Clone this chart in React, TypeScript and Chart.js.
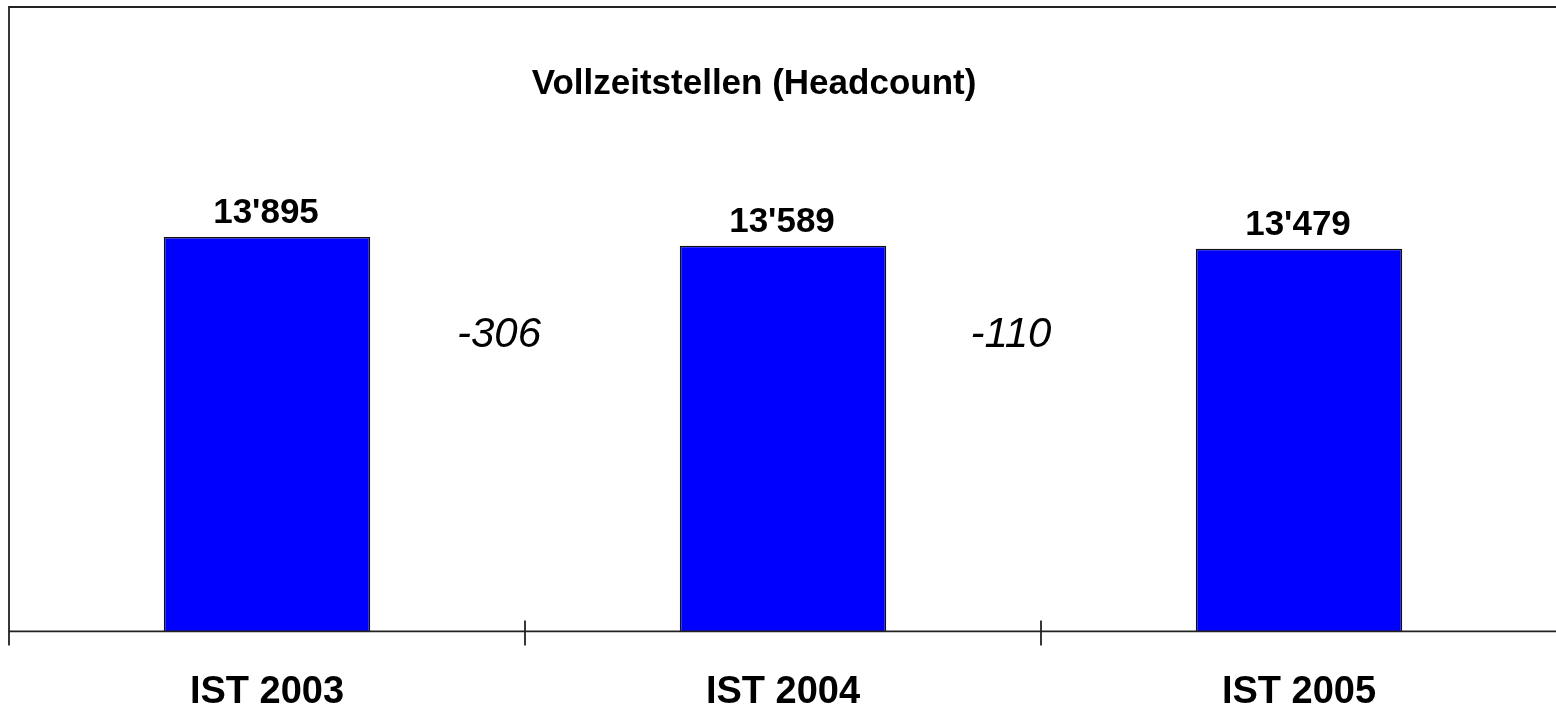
import { useEffect, useRef } from "react";
import { Chart, registerables } from "chart.js";

Chart.register(...registerables);

const categories = ["IST 2003", "IST 2004", "IST 2005"];
const headcount = [13895, 13589, 13479];
const deltas = [-306, -110];
const titleText = "Vollzeitstellen (Headcount)";
const yMin = 0;
const yMax = 22000;

const FONT = "Arial, 'Liberation Sans', sans-serif";

const fmt = (n: number) =>
  String(n).replace(/\B(?=(\d{3})+(?!\d))/g, "'");

const decorPlugin = {
  id: "decor",
  afterDraw(chart: any) {
    const ctx = chart.ctx as CanvasRenderingContext2D;
    const { left, top, bottom } = chart.chartArea;
    const xs = chart.scales.x;
    ctx.save();
    ctx.strokeStyle = "#222";
    ctx.lineWidth = 1.8;
    // frame: left and top
    ctx.beginPath();
    ctx.moveTo(left, bottom + 14);
    ctx.lineTo(left, top);
    ctx.lineTo(chart.width, top);
    ctx.stroke();
    // category axis line
    ctx.beginPath();
    ctx.moveTo(left, bottom);
    ctx.lineTo(chart.width, bottom);
    ctx.stroke();
    // tick marks between categories
    for (let i = 0; i < categories.length - 1; i++) {
      const bx = (xs.getPixelForValue(i) + xs.getPixelForValue(i + 1)) / 2;
      ctx.beginPath();
      ctx.moveTo(bx, bottom - 11);
      ctx.lineTo(bx, bottom + 14);
      ctx.stroke();
    }
    // title
    ctx.fillStyle = "#000";
    ctx.textAlign = "center";
    ctx.textBaseline = "alphabetic";
    ctx.font = `bold 35px ${FONT}`;
    ctx.fillText(titleText, 754, top + 87);
    // value labels
    const meta = chart.getDatasetMeta(0);
    ctx.font = `bold 35px ${FONT}`;
    meta.data.forEach((el: any, i: number) => {
      ctx.fillText(fmt(headcount[i]), el.x - 1, el.y - 14);
    });
    // delta labels
    ctx.font = `italic 42px ${FONT}`;
    deltas.forEach((d, i) => {
      const bx = (xs.getPixelForValue(i) + xs.getPixelForValue(i + 1)) / 2;
      ctx.fillText(String(d), bx - 26 - i * 4, top + 340);
    });
    ctx.restore();
  },
};

export default function App() {
  const ref = useRef<HTMLCanvasElement>(null);
  useEffect(() => {
    if (!ref.current) return;
    const chart = new Chart(ref.current, {
      type: "bar",
      data: {
        labels: categories,
        datasets: [
          {
            data: headcount,
            backgroundColor: "#0000FF",
            borderColor: "#111111",
            borderWidth: 1.5,
            barPercentage: 0.4,
            categoryPercentage: 1,
          },
        ],
      },
      options: {
        animation: false,
        responsive: false,
        layout: { padding: { left: 9, top: 7, right: 0, bottom: 0 } },
        plugins: {
          legend: { display: false },
          title: { display: false },
          tooltip: { enabled: false },
        },
        scales: {
          x: {
            offset: true,
            grid: { display: false, drawTicks: false },
            border: { display: false },
            ticks: {
              color: "#000",
              padding: 38,
              font: { family: FONT, size: 38, weight: "bold", lineHeight: 1.2 },
            },
          },
          y: {
            display: false,
            min: yMin,
            max: yMax,
          },
        },
      },
      plugins: [decorPlugin],
    });
    return () => chart.destroy();
  }, []);
  return (
    <div
      style={{
        position: "fixed",
        left: 0,
        top: 0,
        width: 1556,
        height: 706,
        overflow: "hidden",
        background: "#fff",
      }}
    >
      <canvas ref={ref} width={1557} height={753} style={{ display: "block" }} />
    </div>
  );
}
